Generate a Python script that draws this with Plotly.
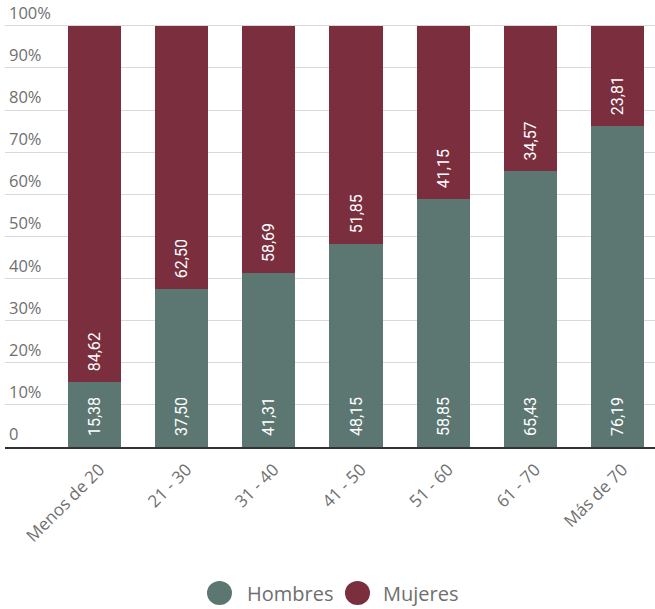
import plotly.graph_objects as go

categories = ["Menos de 20", "21 - 30", "31 - 40", "41 - 50", "51 - 60", "61 - 70", "Más de 70"]
hombres = [15.38, 37.50, 41.31, 48.15, 58.85, 65.43, 76.19]
mujeres = [84.62, 62.50, 58.69, 51.85, 41.15, 34.57, 23.81]
y_tickvals = [0, 10, 20, 30, 40, 50, 60, 70, 80, 90, 100]
y_ticktext = ["0", "10%", "20%", "30%", "40%", "50%", "60%", "70%", "80%", "90%", "100%"]
series_names = ["Hombres", "Mujeres"]

GREEN = "#5c7771"
MAROON = "#7a2e3e"
FONT = "Open Sans"
TXT = "#6f6f6f"
PAD = "\u00a0\u00a0"

W, H = 655, 609
ML, MR, MT, MB = 5, 0, 9, 162
PW, PH = W - ML - MR, H - MT - MB

def px_x(px):
    return (px - ML) / PW

def px_y(py):
    return (H - MB - py) / PH

fig = go.Figure()
xs = list(range(len(categories)))
for name, vals, col in [(series_names[0], hombres, GREEN), (series_names[1], mujeres, MAROON)]:
    fig.add_trace(go.Bar(
        name=name, x=xs, y=vals,
        marker=dict(color=col, line=dict(width=0)),
        texttemplate=PAD + "%{y:.2f}", textposition="inside", insidetextanchor="start",
        textangle=-90, textfont=dict(color="white", size=16, family="Roboto"),
        width=0.61, showlegend=False,
    ))

annotations = []
for v, t in zip(y_tickvals, y_ticktext):
    annotations.append(dict(
        xref="paper", yref="y", x=0, y=v, xanchor="left", yanchor="bottom",
        xshift=2, yshift=0, text=t, showarrow=False,
        font=dict(size=16.5, color=TXT, family=FONT),
    ))

# manual legend (large circle markers)
legend_items = [(series_names[0], GREEN, 219.5, 245), (series_names[1], MAROON, 357.5, 381)]
shapes = []
for name, col, cx, tx in legend_items:
    shapes.append(dict(
        type="circle", xref="paper", yref="paper", xsizemode="pixel", ysizemode="pixel",
        xanchor=px_x(cx), yanchor=px_y(593), x0=-12.5, x1=12.5, y0=-12, y1=12,
        fillcolor=col, line=dict(width=0),
    ))
    annotations.append(dict(
        xref="paper", yref="paper", x=px_x(tx), y=px_y(593), xanchor="left", yanchor="middle",
        text=name, showarrow=False, font=dict(size=20, color=TXT, family=FONT),
    ))

fig.update_layout(
    barmode="stack",
    width=W, height=H,
    margin=dict(l=ML, r=MR, t=MT, b=MB),
    paper_bgcolor="white", plot_bgcolor="white",
    separators=",.",
    font=dict(family=FONT, color=TXT),
    showlegend=False,
    uniformtext=dict(minsize=8, mode="show"),
    annotations=annotations,
    shapes=shapes,
)
fig.update_xaxes(
    tickvals=xs, ticktext=categories,
    range=[-1.027, 6.43], tickangle=-45, tickfont=dict(size=17, color=TXT),
    ticklabelshift=5, ticklabelstandoff=4,
    showgrid=False, showline=True, linecolor="#333333", linewidth=2, ticks="",
    zeroline=False,
)
fig.update_yaxes(
    range=[0, 104], tickvals=y_tickvals, showticklabels=False,
    showgrid=True, gridcolor="#d9d9d9", gridwidth=1, zeroline=False, showline=False,
)
fig.write_html("out.html")
